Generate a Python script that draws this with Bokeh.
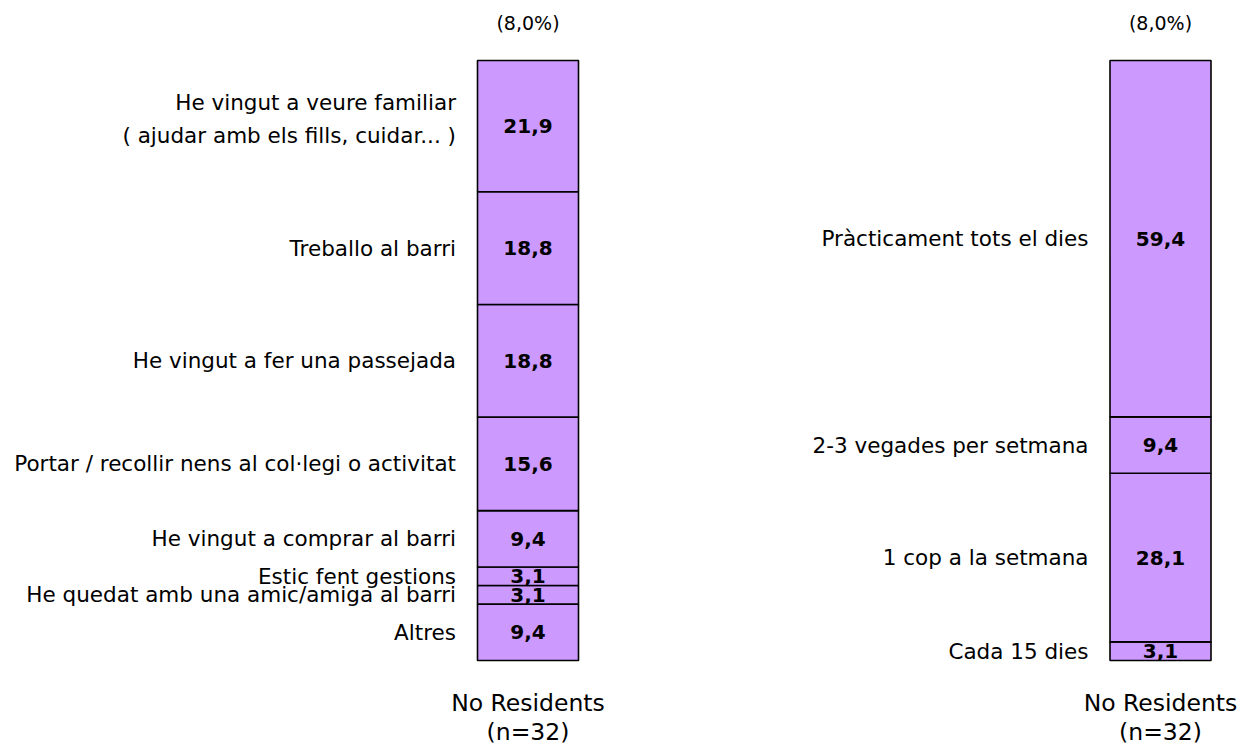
import numpy as np
from bokeh.plotting import figure
from bokeh.models import Range1d, ColumnDataSource
from bokeh.core.properties import value
from bokeh.embed import file_html
from bokeh.resources import INLINE

# ---- data ----
left_labels = ["Altres", "He quedat amb una amic/amiga al barri", "Estic fent gestions",
               "He vingut a comprar al barri", "Portar / recollir nens al col·legi o activitat",
               "He vingut a fer una passejada", "Treballo al barri",
               "He vingut a veure familiar\n( ajudar amb els fills, cuidar... )"]
left_values = [9.4, 3.1, 3.1, 9.4, 15.6, 18.8, 18.8, 21.9]
right_labels = ["Cada 15 dies", "1 cop a la setmana", "2-3 vegades per setmana",
                "Pràcticament tots el dies"]
right_values = [3.1, 28.1, 9.4, 59.4]
group_name = "No Residents\n(n=32)"
top_note = "(8,0%)"

FONT = "DejaVu Sans"
W, H = 1241, 745
BOT, TOP = 660, 60  # pixel rows of 0% and 100%

def py(px):
    return 100 * (BOT - px) / (BOT - TOP)

p = figure(width=W, height=H, output_backend="svg", toolbar_location=None,
           x_range=Range1d(0, W), y_range=Range1d(py(H), py(0)),
           min_border=0)
p.axis.visible = False
p.grid.visible = False
p.outline_line_color = None
p.background_fill_color = "white"
p.border_fill_color = "white"

def panel(cx, labels, vals):
    vals = np.array(vals)
    tops = np.cumsum(vals)
    tops = tops / tops[-1] * 100
    bottoms = np.concatenate([[0], tops[:-1]])
    mids = (tops + bottoms) / 2
    yoff = [-7 if "\n" in l else 0 for l in labels]
    src = ColumnDataSource(dict(x=[cx] * len(vals), top=tops, bottom=bottoms, mid=mids,
                                lab=labels, yoff=yoff,
                                val=[f"{v:.1f}".replace(".", ",") for v in vals]))
    p.vbar(x="x", top="top", bottom="bottom", width=101, source=src,
           fill_color="#CC99FF", line_color="black", line_width=1.6)
    p.text(x=cx, y="mid", text="val", source=src, text_align="center",
           text_baseline="middle", text_font=value(FONT), text_font_style="bold",
           text_font_size="20px", text_color="black")
    p.text(x=cx - 72, y="mid", text="lab", source=src, text_align="right",
           y_offset="yoff",
           text_baseline="middle", text_font=value(FONT), text_font_size="21.5px",
           text_color="black", text_line_height=1.33)
    p.text(x=[cx], y=[py(22)], text=[top_note], text_align="center",
           text_baseline="middle", text_font=value(FONT), text_font_size="19px",
           text_color="black")
    p.text(x=[cx], y=[py(717)], text=[group_name], text_align="center",
           text_baseline="middle", text_font=value(FONT), text_font_size="23.5px",
           text_color="black", text_line_height=1.03)

panel(527.5, left_labels, left_values)
panel(1160, right_labels, right_values)

open("out.html", "w").write(file_html(p, INLINE))
